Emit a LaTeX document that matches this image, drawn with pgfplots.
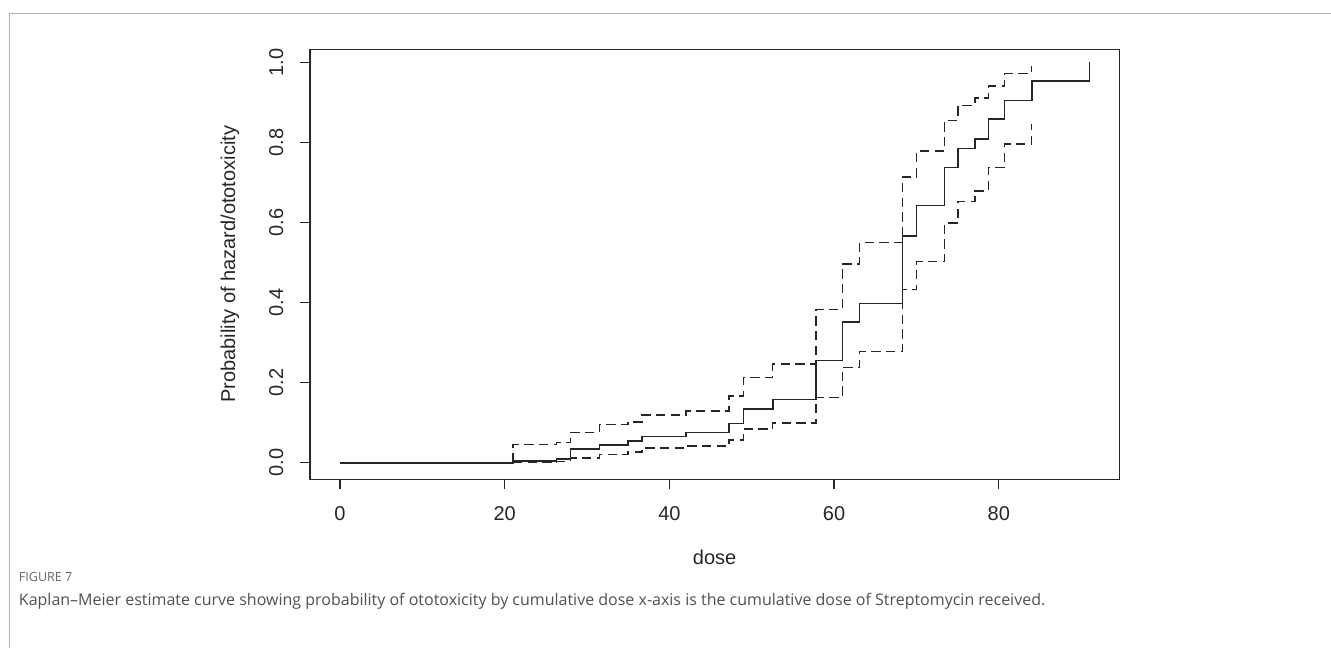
\documentclass[border=0pt]{standalone}
\usepackage{fontspec}
\setmainfont{Liberation Sans}
\newfontfamily\capfont{Open Sans}
\usepackage{pgfplots}
\pgfplotsset{compat=1.18}
\definecolor{framegray}{HTML}{B4B4B4}
\definecolor{capgray}{HTML}{505050}
\definecolor{figgray}{HTML}{666666}
\definecolor{inkc}{HTML}{262626}
\begin{document}
\begin{tikzpicture}
\path[use as bounding box] (0pt,0pt) rectangle (998.25pt,-486pt);
\draw[framegray, line width=0.9pt] (6.9pt,-486pt) -- (6.9pt,-10pt) -- (998.25pt,-10pt);
\begin{axis}[
  at={(232.5pt,-359.5pt)}, anchor=south west,
  scale only axis, width=607pt, height=322.5pt,
  xmin=-3.64, xmax=94.64, ymin=-0.0415, ymax=1.0325,
  axis line style={inkc, line width=0.9pt},
  xtick={0,20,40,60,80}, ytick={0,0.2,0.4,0.6,0.8,1.0},
  xtick pos=left, ytick pos=left,
  tick align=outside, major tick length=7.5pt,
  tick style={inkc, line width=0.9pt},
  /pgf/number format/assume math mode=true,
  ticklabel style={font=\fontsize{15}{18}\selectfont, text=inkc},
  yticklabel style={xshift=-9pt, rotate=90, anchor=south, /pgf/number format/fixed, /pgf/number format/fixed zerofill, /pgf/number format/precision=1},
  xticklabel style={yshift=-9pt},
  clip=false,
]
\addplot[const plot, inkc, line width=1.2pt] coordinates {
(0,0) (21,0.004) (26.3,0.009) (28,0.034) (31.5,0.045) (35,0.054) (36.7,0.065) (42,0.075) (47.25,0.098) (49,0.134) (52.55,0.158) (57.8,0.255) (61,0.351) (63.1,0.398) (68.3,0.567) (70,0.642) (73.4,0.737) (75.05,0.785) (77.1,0.808) (78.75,0.858) (80.7,0.905) (84,0.953) (91,1.0)
};
\addplot[const plot, inkc, line width=1.1pt, dash pattern=on 7pt off 4pt] coordinates {
(21,0) (21,0.045) (26.3,0.05) (28,0.076) (31.5,0.096) (35,0.102) (36.7,0.119) (42,0.129) (47.25,0.167) (49,0.213) (52.55,0.247) (57.8,0.383) (61,0.496) (63.1,0.55) (68.3,0.714) (70,0.778) (73.4,0.855) (75.05,0.892) (77.1,0.911) (78.75,0.941) (80.7,0.972) (84,0.99)
};
\addplot[const plot, inkc, line width=1.1pt, dash pattern=on 7pt off 4pt] coordinates {
(21,0.001) (26.3,0.003) (28,0.012) (31.5,0.021) (35,0.027) (36.7,0.037) (42,0.042) (47.25,0.057) (49,0.084) (52.55,0.099) (57.8,0.163) (61,0.238) (63.1,0.278) (68.3,0.432) (70,0.503) (73.4,0.599) (75.05,0.653) (77.1,0.679) (78.75,0.738) (80.7,0.796) (84,0.846)
};
\node[font=\fontsize{15}{18}\selectfont, text=inkc, anchor=center] at (axis description cs:0.5,0) [yshift=-58.5pt] {dose};
\node[xshift=-60pt, rotate=90, font=\fontsize{15}{18}\selectfont, text=inkc, anchor=center] at (axis description cs:0,0.5) {Probability of hazard/ototoxicity};
\end{axis}
\node[anchor=west, font=\capfont\fontsize{9.4}{11}\selectfont, text=figgray, inner sep=0pt] at (14pt,-433pt) {FIGURE 7};
\node[anchor=west, font=\capfont\fontsize{12}{14}\selectfont, text=capgray, inner sep=0pt] at (14pt,-451pt) {Kaplan–Meier estimate curve showing probability of ototoxicity by cumulative dose x-axis is the cumulative dose of Streptomycin received.};
\end{tikzpicture}
\end{document}
